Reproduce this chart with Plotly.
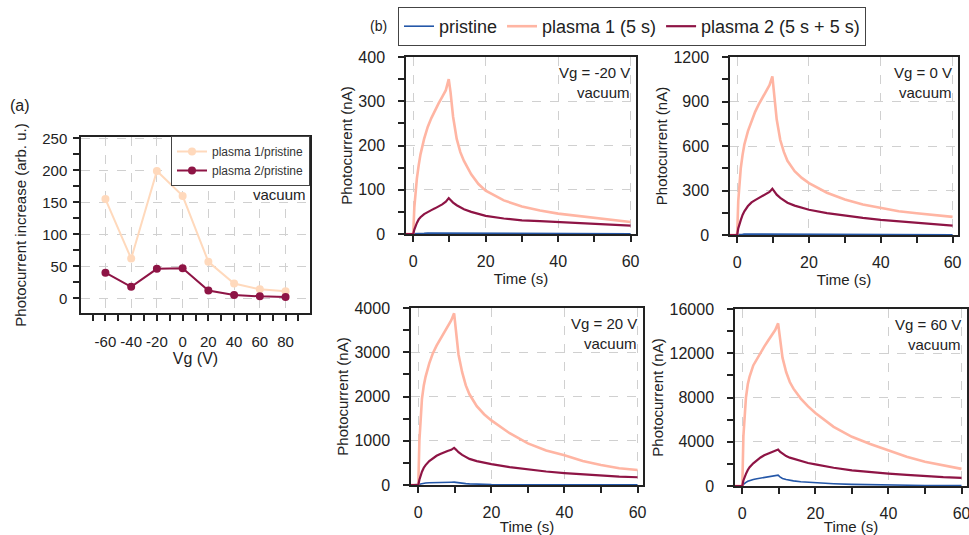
import plotly.graph_objects as go

# ---------------- Panel (a) data ----------------
vg = [-60, -40, -20, 0, 20, 40, 60, 80]
ratio_plasma1 = [155, 62, 199, 160, 57, 23, 14, 11]
ratio_plasma2 = [40, 18, 46, 47, 12, 5, 3, 2]
vg_tick_labels = ["-60", "-40", "-20", "0", "20", "40", "60", "80"]

# ---------------- Panel (b) data ----------------
time_s = [-2, 0, 0.3, 0.6, 1, 1.5, 2, 3, 4, 5, 6, 7, 8, 9, 9.8, 10.3, 11, 12, 13, 14,
          16, 18, 20, 25, 30, 35, 40, 45, 50, 55, 60]

# Vg = -20 V
m20_pristine = [0, 0, 1, 1, 1, 1.5, 1.5, 1.5, 2, 2, 2, 2, 2, 2, 2, 1.5, 1.2, 1, 1, 0.8,
                0.7, 0.6, 0.5, 0.5, 0.5, 0.5, 0.5, 0.5, 0.5, 0.5, 0.5]
m20_plasma1 = [0, 0, 60, 95, 125, 155, 180, 215, 242, 262, 280, 295, 310, 325, 350, 320,
               265, 215, 185, 165, 135, 113, 98, 76, 62, 53, 46, 41, 36, 31, 27]
m20_plasma2 = [0, 0, 10, 18, 25, 33, 38, 45, 50, 54, 58, 62, 67, 73, 81, 77, 71, 65, 60,
               56, 50, 45, 41, 35, 31, 29, 27, 25, 23, 21, 19]

# Vg = 0 V
v0_pristine = [0, 0, 3, 4, 5, 5, 6, 6, 6, 6, 6, 6, 6, 6, 6, 5, 4, 3, 3, 2.5, 2, 2, 2, 2,
               2, 2, 2, 2, 2, 2, 2]
v0_plasma1 = [0, 0, 230, 360, 450, 540, 610, 700, 770, 830, 880, 925, 965, 1010, 1070, 950,
              780, 640, 560, 500, 430, 385, 350, 285, 240, 205, 180, 160, 147, 132, 122]
v0_plasma2 = [0, 0, 45, 75, 100, 135, 160, 195, 220, 235, 250, 262, 275, 290, 312, 295, 272,
              250, 232, 218, 198, 182, 170, 148, 130, 115, 102, 92, 82, 72, 63]

# Vg = 20 V
v20_pristine = [0, 0, 15, 22, 30, 38, 45, 50, 55, 58, 60, 61, 62, 63, 65, 58, 45, 38, 32, 25,
                18, 13, 10, 7, 5, 4, 4, 3, 3, 3, 3]
v20_plasma1 = [0, 0, 1000, 1550, 1950, 2250, 2450, 2750, 2980, 3150, 3300, 3450, 3600, 3720,
               3880, 3500, 2950, 2550, 2250, 2050, 1780, 1600, 1460, 1170, 940, 780, 670,
               540, 450, 380, 340]
v20_plasma2 = [0, 0, 120, 220, 300, 390, 450, 540, 610, 660, 700, 740, 770, 795, 840, 800,
               740, 680, 630, 590, 540, 500, 470, 405, 350, 305, 270, 240, 215, 190, 175]

# Vg = 60 V
v60_pristine = [0, 0, 150, 250, 330, 420, 490, 590, 660, 720, 770, 820, 870, 920, 980, 820,
                680, 580, 510, 460, 380, 330, 290, 210, 150, 110, 85, 65, 50, 40, 30]
v60_plasma1 = [0, 0, 4500, 6500, 8000, 9200, 9900, 10900, 11500, 12100, 12600, 13100, 13600,
               14100, 14700, 13300, 11600, 10300, 9400, 8800, 7900, 7200, 6600, 5350, 4450,
               3800, 3200, 2650, 2200, 1850, 1550]
v60_plasma2 = [0, 0, 500, 800, 1100, 1450, 1700, 2050, 2350, 2580, 2780, 2930, 3070, 3180,
               3300, 3100, 2900, 2700, 2560, 2450, 2250, 2080, 1950, 1650, 1420, 1250, 1120,
               1000, 880, 800, 740]

panel_labels = ["Vg = -20 V", "Vg = 0 V", "Vg = 20 V", "Vg = 60 V"]
series_names = ["pristine", "plasma 1 (5 s)", "plasma 2 (5 s + 5 s)"]
panels = [
    (m20_pristine, m20_plasma1, m20_plasma2),
    (v0_pristine, v0_plasma1, v0_plasma2),
    (v20_pristine, v20_plasma1, v20_plasma2),
    (v60_pristine, v60_plasma1, v60_plasma2),
]
y_ranges = [400, 1200, 4000, 16000]
y_dticks = [100, 300, 1000, 4000]

# ---------------- styling ----------------
FONT = "Liberation Sans, Arial, sans-serif"
TXT = "#222222"
C_PEACH = "#FFD9BC"
C_SALMON = "#FFB5A3"
C_CRIMSON = "#8E1445"
C_BLUE = "#2457A8"
series_colors = [C_BLUE, C_SALMON, C_CRIMSON]
series_widths = [1.6, 2.6, 2.2]

W, H = 969, 535

def px_x(a, b):
    return [a / W, b / W]

def px_y(top, bottom):
    return [1 - bottom / H, 1 - top / H]

fig = go.Figure()

# Panel (a)
fig.add_trace(go.Scatter(x=vg, y=ratio_plasma1, mode="lines+markers", name="plasma 1/pristine",
                         line=dict(color=C_PEACH, width=2), marker=dict(color=C_PEACH, size=8),
                         xaxis="x", yaxis="y", legend="legend"))
fig.add_trace(go.Scatter(x=vg, y=ratio_plasma2, mode="lines+markers", name="plasma 2/pristine",
                         line=dict(color=C_CRIMSON, width=2), marker=dict(color=C_CRIMSON, size=8),
                         xaxis="x", yaxis="y", legend="legend"))

# Panel (b)
for i, data in enumerate(panels):
    ax = str(i + 2)
    for j, ys in enumerate(data):
        fig.add_trace(go.Scatter(x=time_s, y=ys, mode="lines", name=series_names[j],
                                 line=dict(color=series_colors[j], width=series_widths[j]),
                                 xaxis="x" + ax, yaxis="y" + ax, legend="legend2",
                                 showlegend=(i == 0)))

axis_common = dict(
    showline=True, linecolor=TXT, linewidth=1.5, mirror=True,
    ticks="outside", ticklen=6, tickwidth=1.5, tickcolor=TXT,
    showgrid=True, gridcolor="#d0d0d0", griddash="dash", gridwidth=1,
    zeroline=False, tickfont=dict(family=FONT, size=16, color=TXT),
    automargin=False, ticklabeloverflow="allow",
)

layout = dict(
    width=W, height=H, margin=dict(l=0, r=0, t=0, b=0, autoexpand=False),
    paper_bgcolor="white", plot_bgcolor="white",
    font=dict(family=FONT, color=TXT),
)

# axis (a)
layout["xaxis"] = dict(axis_common, domain=px_x(81, 310), anchor="y", range=[-79, 99],
                       tickmode="array", tickvals=vg, ticktext=vg_tick_labels,
                       ticklabelstandoff=8,
                       minor=dict(dtick=10, tick0=0, ticks="outside", ticklen=6, tickwidth=1.5,
                                  tickcolor=TXT, showgrid=False),
                       title=dict(text="Vg (V)", font=dict(size=16), standoff=3),
                       tickfont=dict(family=FONT, size=15, color=TXT))
layout["yaxis"] = dict(axis_common, domain=px_y(137, 313), anchor="x", range=[-23, 252],
                       dtick=50, tick0=0, ticklabelstandoff=3,
                       minor=dict(dtick=25, tick0=0, ticks="outside", ticklen=6, tickwidth=1.5,
                                  tickcolor=TXT, showgrid=False),
                       title=dict(text="Photocurrent increase (arb. u.)", font=dict(size=15),
                                  standoff=12),
                       tickfont=dict(family=FONT, size=15, color=TXT))

# axes (b)
boxes = [
    (406, 636, 57, 234),
    (730, 958, 57, 235),
    (411, 643, 308, 485),
    (735, 967, 309, 486),
]
for i, (l, r, t, b) in enumerate(boxes):
    n = i + 2
    xa, ya = "xaxis%d" % n, "yaxis%d" % n
    layout[xa] = dict(axis_common, domain=px_x(l, r), anchor="y%d" % n, range=[-2, 61.5],
                      dtick=20, tick0=0, layer="below traces", ticklabelstandoff=6,
                      minor=dict(dtick=10, tick0=0, ticks="outside", ticklen=6, tickwidth=1.5,
                                 tickcolor=TXT, showgrid=False),
                      title=dict(text="Time (s)", font=dict(size=15), standoff=4))
    layout[ya] = dict(axis_common, domain=px_y(t, b), anchor="x%d" % n,
                      range=[0, y_ranges[i]], dtick=y_dticks[i], tick0=0, layer="below traces",
                      tickformat="d", ticklabelstandoff=10,
                      minor=dict(dtick=y_dticks[i] / 2, tick0=0, ticks="outside", ticklen=6,
                                 tickwidth=1.5, tickcolor=TXT, showgrid=False),
                      title=dict(text="Photocurrent (nA)", font=dict(size=15), standoff=2))

layout["legend"] = dict(x=310 / W, y=1 - 136 / H, xanchor="right", yanchor="top",
                        bgcolor="white", bordercolor="#444", borderwidth=1,
                        font=dict(family=FONT, size=12, color="#333"), tracegroupgap=0,
                        itemwidth=30)
layout["legend2"] = dict(orientation="h", x=398 / W, y=1 - 7 / H, xanchor="left",
                         yanchor="top", bgcolor="white", bordercolor="#444", borderwidth=1,
                         font=dict(family=FONT, size=18, color=TXT), itemwidth=30)

annotations = [
    dict(text="(a)", x=8 / W, y=1 - 105 / H, xref="paper", yref="paper", xanchor="left",
         yanchor="middle", showarrow=False, font=dict(size=16)),
    dict(text="(b)", x=368 / W, y=1 - 26 / H, xref="paper", yref="paper", xanchor="left",
         yanchor="middle", showarrow=False, font=dict(size=14)),
    dict(text="vacuum", x=308 / W, y=1 - 195 / H, xref="paper", yref="paper",
         xanchor="right", yanchor="middle", showarrow=False, font=dict(size=15)),
]
for i, (l, r, t, b) in enumerate(boxes):
    annotations.append(dict(text=panel_labels[i], x=(r - 4) / W, y=1 - (t + 15) / H,
                            xref="paper", yref="paper", xanchor="right", yanchor="middle",
                            showarrow=False, font=dict(size=15)))
    annotations.append(dict(text="vacuum", x=(r - 4) / W, y=1 - (t + 35) / H,
                            xref="paper", yref="paper", xanchor="right", yanchor="middle",
                            showarrow=False, font=dict(size=15)))
layout["annotations"] = annotations

fig.update_layout(**layout)
fig.write_html("out.html")
